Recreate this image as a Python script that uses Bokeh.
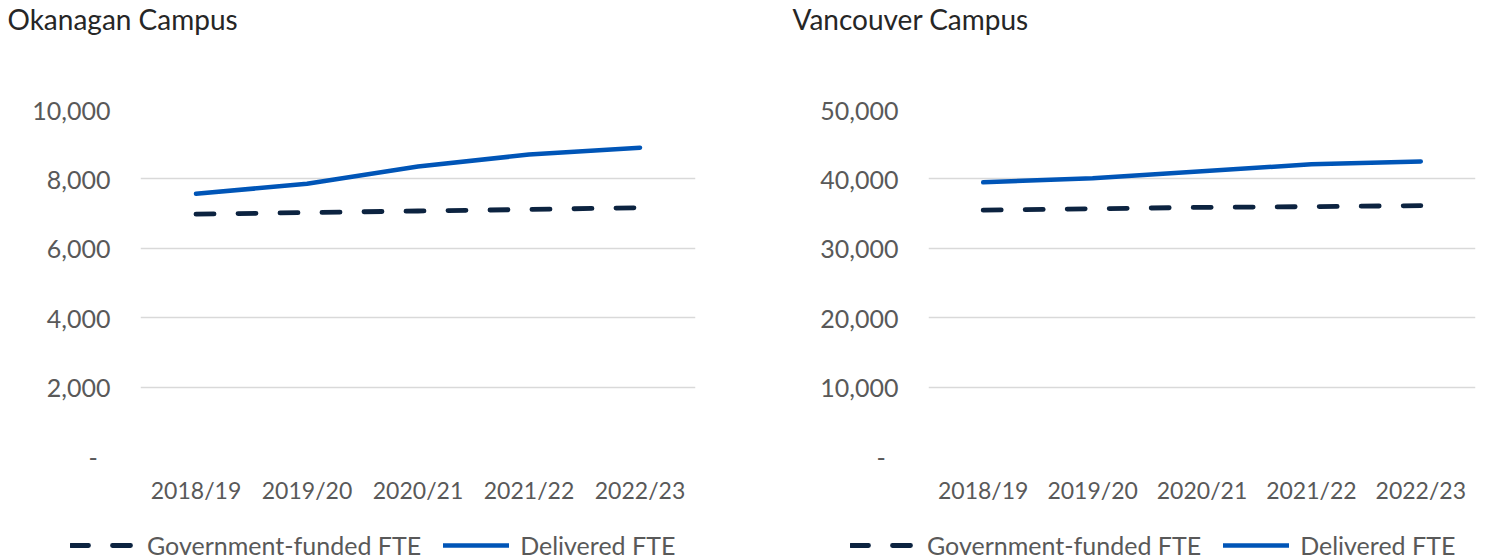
from bokeh.plotting import figure
from bokeh.models import Range1d, FactorRange, FixedTicker, Legend, LegendItem, Label
from bokeh.layouts import row, column
from bokeh.embed import file_html
from bokeh.resources import INLINE

years = ["2018/19", "2019/20", "2020/21", "2021/22", "2022/23"]

okanagan_gov = [6985, 7030, 7075, 7120, 7170]
okanagan_delivered = [7570, 7860, 8360, 8700, 8900]

vancouver_gov = [35500, 35700, 35900, 36000, 36150]
vancouver_delivered = [39500, 40100, 41100, 42100, 42500]

okanagan_ticks = [0, 2000, 4000, 6000, 8000, 10000]
okanagan_tick_labels = ["-\u00a0\u00a0", "2,000", "4,000", "6,000", "8,000", "10,000"]
vancouver_ticks = [0, 10000, 20000, 30000, 40000, 50000]
vancouver_tick_labels = ["-\u00a0\u00a0", "10,000", "20,000", "30,000", "40,000", "50,000"]

series_names = ["Government-funded FTE", "Delivered FTE"]
titles = ["Okanagan Campus", "Vancouver Campus"]

FONT = "Lato"
GOV_COLOR = "#0C2340"
DEL_COLOR = "#0055B7"
TEXT_COLOR = "#595959"
GOV_STYLE = dict(line_color=GOV_COLOR, line_width=4.8, line_dash="18 24",
                 line_cap="round", line_join="round")
DEL_STYLE = dict(line_color=DEL_COLOR, line_width=4.5,
                 line_cap="round", line_join="round")


def make_header(title, width, tx):
    hf = figure(
        width=width, height=40,
        x_range=Range1d(0, 1), y_range=Range1d(0, 1),
        x_axis_type=None, y_axis_type=None,
        output_backend="svg", toolbar_location=None, min_border=0,
    )
    hf.outline_line_color = None
    hf.grid.grid_line_color = None
    hf.add_layout(Label(
        x=tx, y=22, x_units="screen", y_units="screen", text=title,
        text_font=FONT, text_font_size="28px", text_color="#262626",
        text_baseline="alphabetic", text_align="left",
    ))
    return hf


def make_chart(gov, delivered, ticks, tick_labels, width, right):
    p = figure(
        width=width, height=480,
        x_range=FactorRange(factors=years, range_padding=0),
        y_range=Range1d(0, ticks[-1]),
        output_backend="svg", toolbar_location=None,
        min_border_left=140, min_border_right=right,
        min_border_top=69, min_border_bottom=64,
    )
    p.outline_line_color = None
    p.xgrid.grid_line_color = None
    p.ygrid.grid_line_color = "#D9D9D9"
    p.ygrid.grid_line_width = 1.5

    p.yaxis.ticker = FixedTicker(ticks=ticks)
    p.yaxis.major_label_overrides = dict(zip(ticks, tick_labels))
    for ax in (p.xaxis[0], p.yaxis[0]):
        ax.axis_line_color = None
        ax.major_tick_line_color = None
        ax.minor_tick_line_color = None
        ax.major_label_text_font = FONT
        ax.major_label_text_color = TEXT_COLOR
    p.yaxis.major_label_text_font_size = "25px"
    p.xaxis.major_label_text_font_size = "23px"
    p.yaxis.major_label_standoff = 24
    p.xaxis.major_label_standoff = 13

    p.line(years, gov, **GOV_STYLE)
    p.line(years, delivered, **DEL_STYLE)
    return p


def make_legend(gov, delivered, ticks, width, dx):
    lf = figure(
        width=width, height=40,
        x_range=FactorRange(factors=years, range_padding=0),
        y_range=Range1d(-2 * ticks[-1], -ticks[-1]),
        x_axis_type=None, y_axis_type=None,
        output_backend="svg", toolbar_location=None,
        min_border=0,
    )
    lf.outline_line_color = None
    lf.grid.grid_line_color = None
    r_gov = lf.line(years, gov, **GOV_STYLE)
    r_del = lf.line(years, delivered, **DEL_STYLE)
    legend = Legend(
        items=[LegendItem(label=series_names[0], renderers=[r_gov]),
               LegendItem(label=series_names[1], renderers=[r_del])],
        orientation="horizontal",
        location=(dx, 0),
        label_text_font=FONT, label_text_font_size="25px", label_text_color=TEXT_COLOR,
        glyph_width=66, glyph_height=24, label_standoff=11, spacing=22,
        padding=0, margin=0, border_line_alpha=0, background_fill_alpha=0,
    )
    lf.add_layout(legend, "center")
    return lf


h1 = make_header(titles[0], 788, 7)
h2 = make_header(titles[1], 695, 4)
p1 = make_chart(okanagan_gov, okanagan_delivered, okanagan_ticks, okanagan_tick_labels, 788, 93)
p2 = make_chart(vancouver_gov, vancouver_delivered, vancouver_ticks, vancouver_tick_labels, 695, 8)
l1 = make_legend(okanagan_gov, okanagan_delivered, okanagan_ticks, 788, 70)
l2 = make_legend(vancouver_gov, vancouver_delivered, vancouver_ticks, 695, 62)

layout = column(row(h1, h2), row(p1, p2), row(l1, l2))
open("out.html", "w").write(file_html(layout, INLINE))
